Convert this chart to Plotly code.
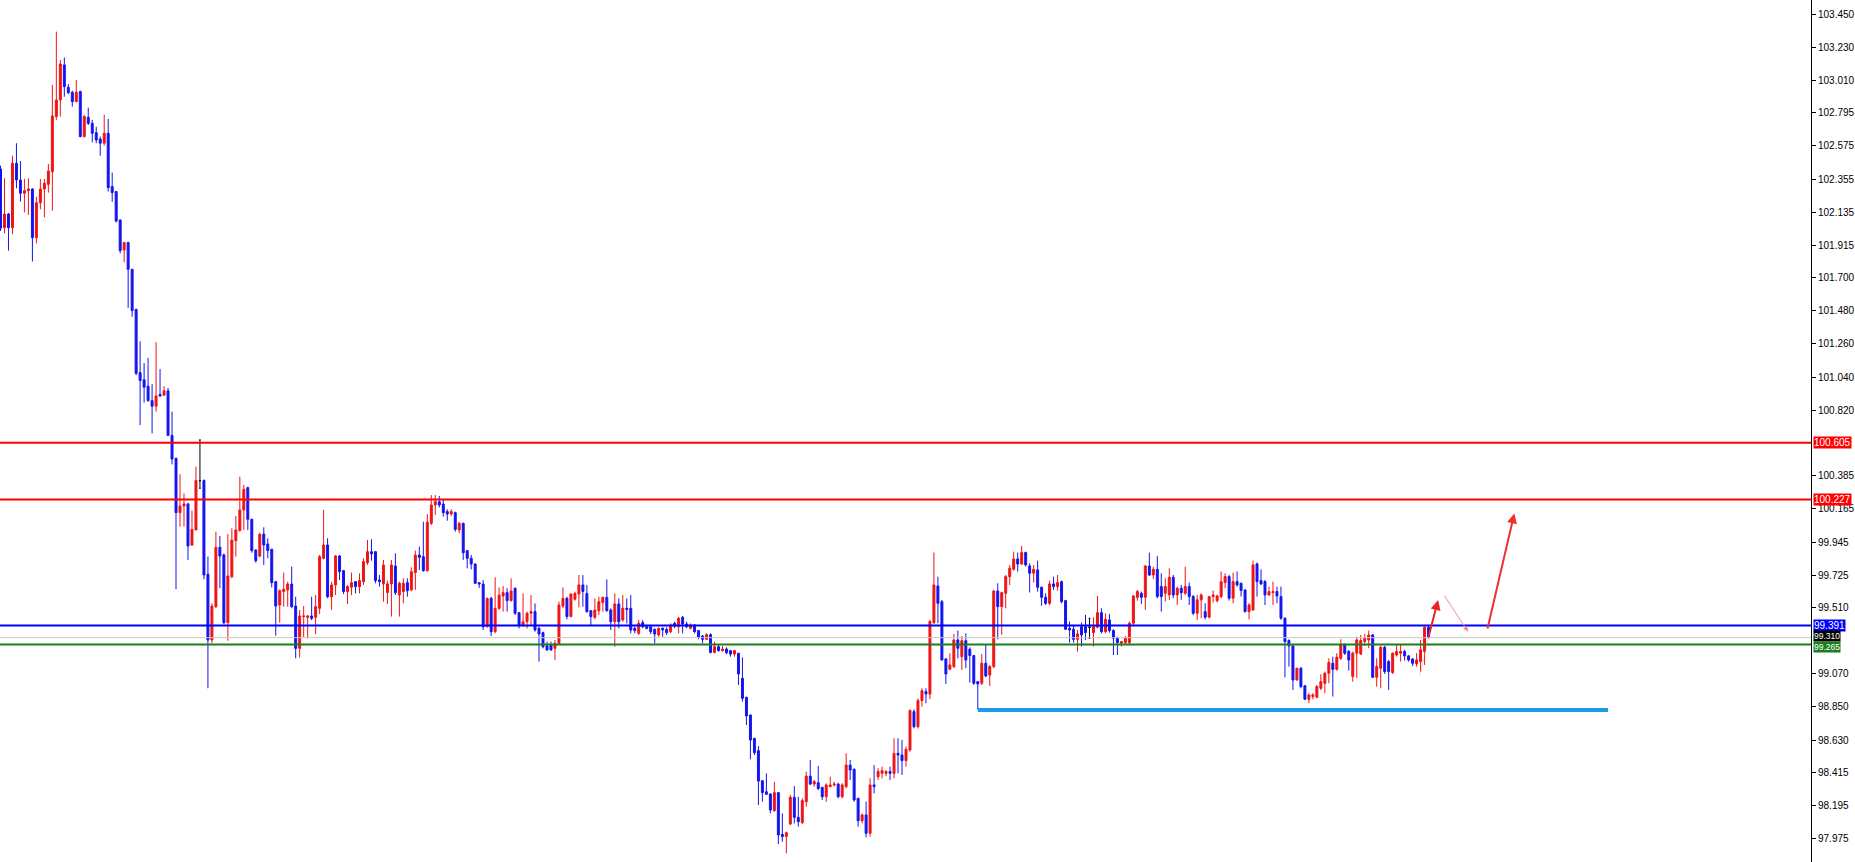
import plotly.graph_objects as go

# ---------------- data ----------------
opens = [
102.422,102.032,102.123,102.032,102.460,102.349,102.261,102.278,102.289,101.966,
102.198,102.289,102.320,102.404,102.770,102.880,103.113,102.964,102.931,102.869,
102.936,102.637,102.765,102.725,102.663,102.621,102.593,102.659,102.305,102.272,
102.083,101.884,101.933,101.755,101.489,101.070,101.022,100.980,100.884,100.847,
100.925,100.920,100.949,100.653,100.501,100.140,100.184,100.198,99.925,100.025,
100.353,100.353,99.731,99.295,99.516,99.910,99.859,99.410,99.715,99.954,
100.021,100.158,100.306,100.096,99.892,99.852,99.998,99.932,99.897,99.682,
99.527,99.616,99.627,99.666,99.520,99.239,99.450,99.445,99.454,99.445,
99.505,99.837,99.925,99.582,99.660,99.852,99.755,99.616,99.645,99.682,
99.649,99.682,99.808,99.881,99.881,99.693,99.667,99.610,99.667,99.786,
99.593,99.616,99.675,99.627,99.742,99.859,99.848,99.755,100.069,100.191,
100.213,100.197,100.147,100.131,100.140,100.025,100.069,99.888,99.837,99.799,
99.675,99.666,99.383,99.571,99.350,99.505,99.587,99.609,99.556,99.638,
99.476,99.394,99.416,99.472,99.483,99.372,99.343,99.255,99.261,99.239,
99.272,99.520,99.571,99.450,99.565,99.600,99.660,99.604,99.489,99.445,
99.489,99.543,99.578,99.494,99.416,99.534,99.427,99.505,99.505,99.372,
99.339,99.410,99.383,99.383,99.365,99.328,99.372,99.365,99.350,99.405,
99.383,99.445,99.401,99.372,99.394,99.357,99.321,99.299,99.330,99.212,
99.250,99.224,99.235,99.224,99.201,99.206,99.040,98.914,98.796,98.641,
98.560,98.360,98.287,98.272,98.161,98.281,98.004,97.989,98.073,98.250,
98.117,98.082,98.221,98.391,98.338,98.347,98.316,98.254,98.321,98.332,
98.338,98.254,98.321,98.464,98.436,98.243,98.095,98.133,98.011,98.332,
98.387,98.409,98.409,98.421,98.409,98.542,98.531,98.494,98.564,98.819,
98.719,98.892,98.952,98.936,99.410,99.653,99.549,99.169,99.100,99.118,
99.295,99.184,99.290,99.233,99.191,99.018,99.007,99.140,99.062,99.118,
99.620,99.516,99.605,99.715,99.764,99.833,99.799,99.875,99.786,99.738,
99.760,99.645,99.578,99.538,99.667,99.649,99.682,99.556,99.372,99.366,
99.299,99.383,99.383,99.379,99.344,99.379,99.476,99.350,99.428,99.357,
99.306,99.273,99.277,99.277,99.406,99.578,99.605,99.578,99.786,99.726,
99.764,99.649,99.605,99.594,99.711,99.594,99.638,99.605,99.649,99.583,
99.472,99.561,99.483,99.446,99.583,99.556,99.583,99.676,99.716,99.572,
99.682,99.671,99.627,99.483,99.494,99.800,99.689,99.682,99.594,99.609,
99.616,99.583,99.439,99.291,99.255,99.029,99.107,98.990,98.901,98.919,
98.914,98.974,99.007,99.074,99.140,99.100,99.173,99.262,99.218,99.052,
99.207,99.202,99.284,99.295,99.328,99.047,99.107,99.246,99.151,99.078,
99.195,99.207,99.218,99.189,99.169,99.136,99.151,99.218,99.379]

highs = [
102.444,102.360,102.130,102.510,102.593,102.475,102.356,102.360,102.294,102.238,
102.356,102.356,102.455,102.980,103.334,103.146,103.163,102.986,102.942,103.013,
102.942,102.781,102.829,102.748,102.703,102.637,102.781,102.754,102.398,102.275,
102.088,101.939,101.939,101.760,101.495,101.278,101.133,101.167,100.993,101.271,
101.094,100.980,100.968,100.811,100.505,100.395,100.268,100.205,100.153,100.446,
100.623,100.361,99.848,99.538,100.014,99.985,99.870,99.999,100.036,100.118,
100.379,100.324,100.313,100.100,99.896,100.007,100.043,99.970,99.900,99.686,
99.631,99.742,99.682,99.782,99.582,99.494,99.520,99.460,99.582,99.593,
99.859,100.158,99.970,99.682,99.859,99.859,99.760,99.660,99.742,99.686,
99.737,99.837,99.959,99.963,99.885,99.726,99.826,99.689,99.826,99.870,
99.682,99.704,99.704,99.777,99.888,99.914,100.080,100.131,100.257,100.257,
100.251,100.224,100.162,100.162,100.147,100.080,100.074,99.892,99.859,99.803,
99.677,99.693,99.576,99.582,99.711,99.644,99.653,99.638,99.704,99.644,
99.480,99.604,99.483,99.593,99.538,99.383,99.350,99.283,99.283,99.294,
99.549,99.644,99.582,99.604,99.615,99.726,99.726,99.660,99.494,99.571,
99.582,99.582,99.697,99.505,99.604,99.571,99.593,99.571,99.593,99.383,
99.427,99.427,99.390,99.387,99.372,99.378,99.378,99.378,99.405,99.416,
99.449,99.454,99.416,99.405,99.400,99.360,99.328,99.339,99.339,99.283,
99.261,99.255,99.246,99.228,99.228,99.210,99.179,98.918,98.800,98.645,
98.591,98.364,98.409,98.276,98.354,98.285,98.143,98.022,98.265,98.325,
98.254,98.243,98.420,98.498,98.365,98.458,98.320,98.343,98.387,98.354,
98.347,98.343,98.542,98.498,98.442,98.247,98.143,98.221,98.376,98.464,
98.443,98.454,98.430,98.454,98.642,98.642,98.631,98.587,98.834,98.834,
98.907,98.974,98.974,99.428,99.875,99.715,99.560,99.173,99.206,99.335,
99.357,99.321,99.339,99.246,99.195,99.022,99.202,99.266,99.129,99.627,
99.671,99.616,99.726,99.793,99.881,99.875,99.919,99.881,99.804,99.793,
99.822,99.649,99.605,99.689,99.715,99.726,99.689,99.561,99.417,99.388,
99.361,99.410,99.461,99.439,99.445,99.587,99.505,99.472,99.467,99.366,
99.317,99.284,99.321,99.417,99.593,99.627,99.616,99.793,99.875,99.780,
99.853,99.738,99.705,99.771,99.727,99.649,99.660,99.782,99.676,99.594,
99.594,99.604,99.539,99.587,99.623,99.594,99.749,99.738,99.727,99.742,
99.749,99.676,99.631,99.539,99.822,99.808,99.764,99.693,99.649,99.682,
99.649,99.649,99.446,99.299,99.258,99.110,99.114,98.996,98.941,98.941,
98.996,99.067,99.085,99.173,99.184,99.207,99.299,99.273,99.229,99.218,
99.317,99.328,99.335,99.357,99.335,99.173,99.255,99.255,99.162,99.211,
99.268,99.268,99.229,99.195,99.173,99.207,99.295,99.384,99.395]

lows = [
102.010,101.995,101.880,101.988,102.294,102.205,102.134,102.117,101.807,101.928,
102.154,102.101,102.265,102.145,102.748,102.770,102.902,102.918,102.836,102.865,
102.632,102.632,102.714,102.599,102.593,102.510,102.577,102.272,102.205,102.066,
101.862,101.802,101.500,101.441,101.053,100.721,100.871,100.876,100.666,100.811,
100.908,100.915,100.649,100.460,99.631,100.047,100.047,99.826,99.919,100.025,
100.302,99.697,98.974,99.272,99.505,99.638,99.400,99.290,99.704,99.848,
100.014,100.025,100.025,99.874,99.808,99.843,99.793,99.837,99.644,99.323,
99.410,99.516,99.516,99.505,99.173,99.177,99.312,99.306,99.427,99.334,
99.467,99.830,99.571,99.494,99.593,99.693,99.600,99.534,99.593,99.604,
99.604,99.660,99.793,99.821,99.671,99.649,99.549,99.533,99.450,99.593,
99.450,99.538,99.582,99.617,99.627,99.759,99.748,99.748,100.058,100.125,
100.175,100.114,100.087,100.118,100.014,100.003,99.826,99.770,99.764,99.666,
99.640,99.361,99.377,99.321,99.339,99.494,99.483,99.483,99.549,99.461,
99.372,99.383,99.372,99.394,99.350,99.151,99.239,99.224,99.224,99.162,
99.268,99.505,99.432,99.445,99.556,99.511,99.516,99.476,99.388,99.432,
99.461,99.483,99.483,99.361,99.250,99.372,99.416,99.405,99.339,99.339,
99.328,99.372,99.365,99.334,99.272,99.317,99.317,99.328,99.339,99.372,
99.339,99.339,99.372,99.365,99.339,99.299,99.272,99.294,99.206,99.206,
99.217,99.217,99.201,99.184,99.184,98.996,98.885,98.730,98.502,98.531,
98.199,98.221,98.265,98.143,98.154,97.940,97.955,97.878,98.066,98.077,
98.055,98.073,98.188,98.332,98.321,98.298,98.232,98.221,98.316,98.321,
98.243,98.243,98.310,98.365,98.221,98.055,98.077,97.984,97.989,98.276,
98.365,98.376,98.390,98.365,98.376,98.409,98.398,98.454,98.553,98.708,
98.708,98.852,98.874,98.901,99.401,99.406,99.158,99.003,99.096,99.107,
99.173,99.096,99.107,99.012,98.996,98.834,98.996,99.047,98.989,99.107,
99.299,99.328,99.505,99.660,99.755,99.749,99.793,99.782,99.610,99.676,
99.616,99.521,99.527,99.527,99.627,99.622,99.538,99.361,99.277,99.277,
99.217,99.251,99.295,99.306,99.251,99.372,99.339,99.339,99.344,99.195,
99.195,99.251,99.268,99.268,99.394,99.556,99.534,99.494,99.720,99.700,
99.572,99.483,99.550,99.561,99.572,99.527,99.561,99.594,99.527,99.461,
99.428,99.439,99.432,99.439,99.543,99.543,99.572,99.638,99.556,99.539,
99.649,99.583,99.477,99.432,99.490,99.583,99.660,99.527,99.587,99.527,
99.539,99.428,99.047,99.118,98.963,99.025,98.974,98.897,98.875,98.901,
98.908,98.963,98.941,99.007,98.919,99.091,99.162,99.195,99.091,99.018,
99.041,99.195,99.255,99.240,99.041,98.985,98.974,99.069,98.963,99.069,
99.184,99.151,99.158,99.151,99.122,99.118,99.085,99.129,99.306]

closes = [
102.028,102.123,102.032,102.460,102.349,102.261,102.278,102.289,101.966,102.198,
102.289,102.327,102.409,102.774,102.880,103.119,102.969,102.929,102.869,102.931,
102.637,102.770,102.725,102.659,102.615,102.593,102.659,102.298,102.265,102.077,
101.880,101.933,101.756,101.482,101.065,101.017,100.973,100.884,100.847,100.915,
100.915,100.949,100.653,100.496,100.140,100.184,100.198,99.919,100.029,100.353,
100.353,99.726,99.295,99.520,99.910,99.852,99.410,99.720,99.958,100.025,
100.158,100.295,100.096,99.888,99.821,99.996,99.925,99.888,99.675,99.520,
99.622,99.631,99.666,99.516,99.239,99.454,99.454,99.454,99.438,99.516,
99.848,99.925,99.582,99.660,99.852,99.748,99.616,99.649,99.675,99.649,
99.689,99.815,99.881,99.866,99.689,99.682,99.793,99.667,99.793,99.609,
99.671,99.671,99.622,99.748,99.859,99.843,99.755,100.076,100.191,100.213,
100.191,100.140,100.131,100.147,100.029,100.069,99.874,99.837,99.799,99.671,
99.666,99.383,99.571,99.350,99.505,99.593,99.609,99.556,99.620,99.472,
99.394,99.416,99.472,99.483,99.361,99.334,99.250,99.228,99.228,99.272,
99.527,99.571,99.450,99.600,99.604,99.660,99.617,99.483,99.450,99.494,
99.549,99.578,99.489,99.416,99.534,99.416,99.505,99.497,99.361,99.357,
99.405,99.383,99.372,99.350,99.334,99.372,99.361,99.343,99.394,99.387,
99.438,99.401,99.383,99.394,99.350,99.312,99.299,99.330,99.212,99.250,
99.224,99.235,99.210,99.201,99.224,99.069,98.907,98.790,98.630,98.546,
98.358,98.281,98.270,98.166,98.281,98.000,97.989,98.015,98.250,98.117,
98.088,98.228,98.391,98.338,98.354,98.309,98.254,98.332,98.332,98.338,
98.254,98.332,98.464,98.431,98.232,98.095,98.133,98.011,98.332,98.321,
98.421,98.427,98.421,98.409,98.542,98.531,98.494,98.569,98.826,98.719,
98.892,98.958,98.936,99.417,99.660,99.538,99.162,99.069,99.129,99.295,
99.240,99.290,99.162,99.191,99.007,99.003,99.140,99.056,99.118,99.620,
99.516,99.609,99.715,99.771,99.833,99.799,99.875,99.793,99.738,99.764,
99.645,99.578,99.538,99.667,99.649,99.676,99.549,99.366,99.361,99.299,
99.335,99.328,99.344,99.379,99.383,99.476,99.350,99.432,99.357,99.306,
99.277,99.284,99.306,99.406,99.587,99.616,99.578,99.786,99.726,99.764,
99.583,99.583,99.649,99.711,99.594,99.638,99.609,99.649,99.583,99.472,
99.561,99.594,99.446,99.583,99.594,99.587,99.682,99.716,99.572,99.682,
99.660,99.623,99.483,99.527,99.793,99.682,99.667,99.594,99.616,99.616,
99.587,99.439,99.284,99.255,99.029,99.107,98.985,98.901,98.930,98.930,
98.985,99.018,99.074,99.145,99.100,99.180,99.262,99.207,99.162,99.207,
99.295,99.291,99.306,99.328,99.047,99.118,99.246,99.085,99.085,99.207,
99.218,99.218,99.189,99.162,99.140,99.162,99.229,99.379,99.310]

# right-axis tick labels (100.605 is covered by its coloured price tag)
tick_values = [103.450, 103.230, 103.010, 102.795, 102.575, 102.355, 102.135,
               101.915, 101.700, 101.480, 101.260, 101.040, 100.820,
               100.385, 100.165, 99.945, 99.725, 99.510, 99.070, 98.850,
               98.630, 98.415, 98.195, 97.975]
tick_labels = ["%.3f" % v for v in tick_values]

# horizontal price levels drawn on the chart
level_prices = [100.605, 100.227, 99.391, 99.310, 99.265]
level_colors = ["#ff0000", "#ff0000", "#0000ff", "#c8c8c8", "#1a7f1a"]
level_widths = [2, 2, 2, 1, 2]
level_tag_bg = ["#ff0000", "#ff0000", "#0000ff", "#000000", "#1a7f1a"]
level_tag_size = [10, 10, 10, 8.5, 8.5]
level_tag_shift = [0, 0, 0, 1.5, -3]

# support segment (bar index start/end, price)
support_x = [245, 403]
support_y = 98.830

# drawn arrows: (tail_x, tail_y, head_x, head_y)
arrows = [
    (357.9, 99.306, 360.4, 99.560),
    (361.7, 99.600, 367.9, 99.350),
    (372.7, 99.361, 379.5, 100.135),
]
arrow_colors = ["#ee2222", "#f29090", "#ee3030"]
arrow_widths = [2, 1, 2]

# ---------------- figure ----------------
idx = list(range(len(opens)))
normal = [i for i in idx if opens[i] != closes[i]]
doji = [i for i in idx if opens[i] == closes[i]]

RED = "#f01414"
BLUE = "#1414f0"

fig = go.Figure()
fig.add_trace(go.Candlestick(
    x=normal,
    open=[opens[i] for i in normal], high=[highs[i] for i in normal],
    low=[lows[i] for i in normal], close=[closes[i] for i in normal],
    increasing=dict(line=dict(color=RED, width=1), fillcolor=RED),
    decreasing=dict(line=dict(color=BLUE, width=1), fillcolor=BLUE),
    whiskerwidth=0, showlegend=False, hoverinfo="skip"))
fig.add_trace(go.Candlestick(
    x=doji,
    open=[opens[i] for i in doji], high=[highs[i] for i in doji],
    low=[lows[i] for i in doji], close=[closes[i] for i in doji],
    increasing=dict(line=dict(color="#000000", width=1), fillcolor="#000000"),
    decreasing=dict(line=dict(color="#000000", width=1), fillcolor="#000000"),
    whiskerwidth=0.9, showlegend=False, hoverinfo="skip"))

shapes = []
for p, c, w in zip(level_prices, level_colors, level_widths):
    shapes.append(dict(type="line", xref="paper", x0=0, x1=1, yref="y", y0=p, y1=p,
                       line=dict(color=c, width=w), layer="above"))
shapes.append(dict(type="line", xref="x", x0=support_x[0], x1=support_x[1], yref="y",
                   y0=support_y, y1=support_y, line=dict(color="#1e9be8", width=4),
                   layer="above"))
# faint trailing line under the first arrow
shapes.append(dict(type="line", xref="x", yref="y", x0=355.8, y0=99.054, x1=357.9, y1=99.306,
                   line=dict(color="rgba(240,120,120,0.35)", width=1), layer="above"))

annotations = []
for p, bg, fs, sh in zip(level_prices, level_tag_bg, level_tag_size, level_tag_shift):
    annotations.append(dict(xref="paper", x=1, xanchor="left", xshift=2, yref="y", y=p,
                            yanchor="middle", yshift=sh, text="%.3f" % p, showarrow=False,
                            bgcolor=bg, borderpad=0,
                            font=dict(family="Liberation Sans", size=fs, color="#ffffff")))
for (tx, ty, hx, hy), c, w in zip(arrows, arrow_colors, arrow_widths):
    annotations.append(dict(x=hx, y=hy, ax=tx, ay=ty, xref="x", yref="y", axref="x",
                            ayref="y", text="", showarrow=True, arrowhead=2,
                            arrowsize=1, arrowwidth=w, arrowcolor=c, standoff=0))

fig.update_layout(
    width=1855, height=862,
    margin=dict(l=0, r=39, t=0, b=0, pad=0),
    paper_bgcolor="#ffffff", plot_bgcolor="#ffffff",
    boxgap=0.3,
    shapes=shapes, annotations=annotations,
    xaxis=dict(range=[-0.125, 453.875], visible=False, rangeslider=dict(visible=False),
               showgrid=False, zeroline=False),
    yaxis=dict(range=[97.8205, 103.544], side="right", tickmode="array",
               tickvals=tick_values, ticktext=tick_labels, ticks="outside", ticklen=4,
               tickcolor="#000000", showline=True, linecolor="#000000", linewidth=1,
               showgrid=False, zeroline=False,
               tickfont=dict(family="Liberation Sans", size=10, color="#000000")),
    showlegend=False,
)

fig.write_html("out.html",
               config={"displayModeBar": False},
               post_script="document.body.style.margin='0';"
                           "document.body.style.overflow='hidden';"
                           "document.documentElement.style.overflow='hidden';")
